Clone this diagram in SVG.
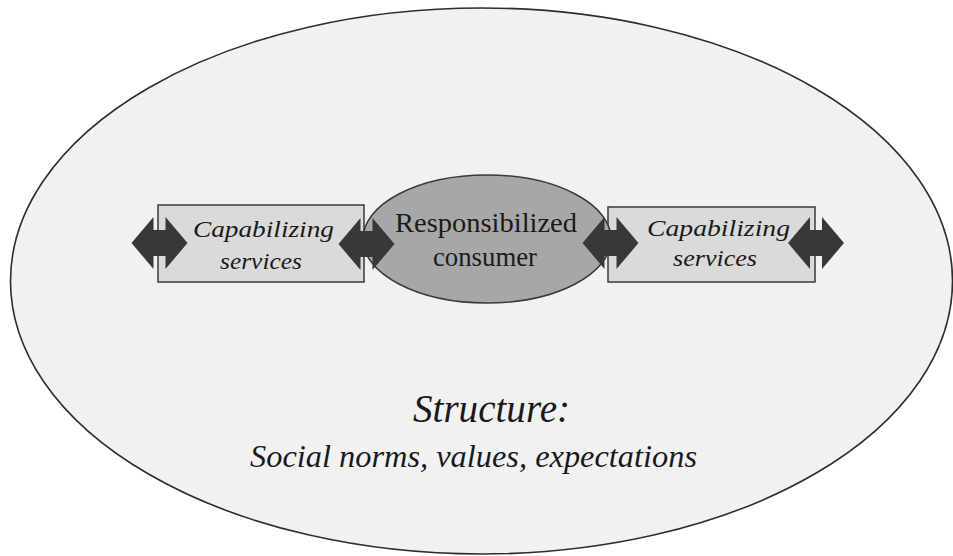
<svg xmlns="http://www.w3.org/2000/svg" width="953" height="556" viewBox="0 0 953 556">
  <style>
    .box { fill: #dadada; stroke: #3a3a3a; stroke-width: 1.5; }
    .core { fill: #a7a7a7; stroke: #3a3a3a; stroke-width: 1.5; }
    .frame { fill: #f1f1f1; stroke: #2e2e2e; stroke-width: 1.6; }
    .arrow { fill: #383838; }
    text { font-family: "Liberation Serif", "Times New Roman", serif; fill: #1a1a1a; }
    .it { font-style: italic; }
  </style>
  <defs>
    <!-- thick double-headed arrow, centred on the origin -->
    <path id="dbl" d="M-28,0 L-6,-26 L-6,-13 L6,-13 L6,-26 L28,0 L6,26 L6,13 L-6,13 L-6,26 Z"/>
  </defs>
  <rect width="953" height="556" fill="#ffffff"/>

  <g id="structure">
    <ellipse class="frame" cx="481.5" cy="281" rx="471" ry="273"/>
    <text class="it" x="413" y="422" font-size="39" textLength="157" lengthAdjust="spacingAndGlyphs">Structure:</text>
    <text class="it" x="250" y="467" font-size="31" textLength="447" lengthAdjust="spacingAndGlyphs">Social norms, values, expectations</text>
  </g>

  <g id="services-left">
    <rect class="box" x="158" y="205" width="206" height="77"/>
    <text class="it" x="193" y="237" font-size="24" textLength="141" lengthAdjust="spacingAndGlyphs">Capabilizing</text>
    <text class="it" x="220" y="269" font-size="24" textLength="82" lengthAdjust="spacingAndGlyphs">services</text>
  </g>

  <g id="services-right">
    <rect class="box" x="608" y="207" width="207" height="75"/>
    <text class="it" x="647" y="236" font-size="24" textLength="143" lengthAdjust="spacingAndGlyphs">Capabilizing</text>
    <text class="it" x="673" y="266" font-size="24" textLength="84" lengthAdjust="spacingAndGlyphs">services</text>
  </g>

  <g id="consumer">
    <ellipse class="core" cx="487" cy="239" rx="124" ry="64"/>
    <text x="395" y="232" font-size="27" textLength="182" lengthAdjust="spacingAndGlyphs">Responsibilized</text>
    <text x="433" y="266" font-size="27" textLength="104" lengthAdjust="spacingAndGlyphs">consumer</text>
  </g>

  <g id="connectors">
    <use href="#dbl" class="arrow" transform="translate(159.5,243)"/>
    <use href="#dbl" class="arrow" transform="translate(366.5,244)"/>
    <use href="#dbl" class="arrow" transform="translate(610.5,243)"/>
    <use href="#dbl" class="arrow" transform="translate(816,243)"/>
  </g>
</svg>
